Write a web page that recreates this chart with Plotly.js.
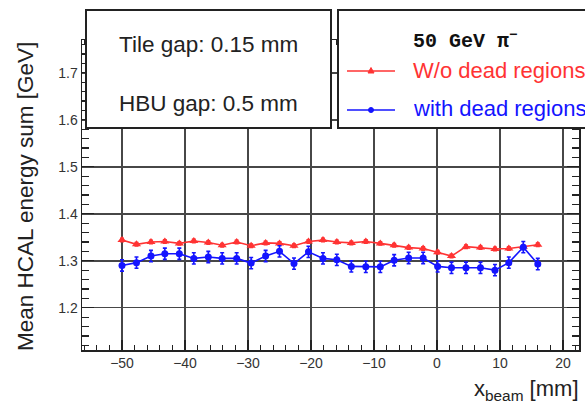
<!DOCTYPE html>
<html>
<head>
<meta charset="utf-8">
<script src="https://cdn.plot.ly/plotly-3.0.1.min.js"></script>
<style>html,body{margin:0;padding:0;background:#fff;}#chart{width:585px;height:404px;}</style>
</head>
<body>
<div id="chart"></div>
<script>
// ---- data ----
const xBeam = [-50, -47.7, -45.4, -43.2, -40.9, -38.6, -36.3, -34.1, -31.8, -29.5,
               -27.2, -25.0, -22.7, -20.4, -18.1, -15.9, -13.6, -11.3, -9.0, -6.8,
               -4.5, -2.2, 0.1, 2.3, 4.6, 6.9, 9.2, 11.4, 13.7, 16.0];
const noDead = [1.344, 1.335, 1.340, 1.341, 1.337, 1.342, 1.339, 1.333, 1.340, 1.332,
                1.338, 1.337, 1.332, 1.341, 1.344, 1.340, 1.338, 1.341, 1.337, 1.333,
                1.328, 1.326, 1.318, 1.310, 1.330, 1.328, 1.325, 1.326, 1.330, 1.334];
const noDeadErr = [0.004, 0.004, 0.004, 0.004, 0.004, 0.004, 0.004, 0.004, 0.004, 0.004,
                   0.004, 0.004, 0.004, 0.004, 0.004, 0.004, 0.004, 0.004, 0.004, 0.004,
                   0.004, 0.004, 0.004, 0.004, 0.004, 0.004, 0.004, 0.004, 0.004, 0.004];
const withDead = [1.290, 1.296, 1.310, 1.315, 1.315, 1.305, 1.308, 1.305, 1.305, 1.295,
                  1.310, 1.320, 1.294, 1.319, 1.305, 1.302, 1.288, 1.287, 1.287, 1.301,
                  1.306, 1.306, 1.288, 1.285, 1.285, 1.285, 1.280, 1.296, 1.329, 1.293];
const withDeadErr = [0.012, 0.012, 0.012, 0.012, 0.012, 0.012, 0.012, 0.012, 0.012, 0.012,
                     0.012, 0.012, 0.012, 0.012, 0.012, 0.012, 0.012, 0.012, 0.012, 0.012,
                     0.012, 0.012, 0.012, 0.012, 0.012, 0.012, 0.012, 0.012, 0.012, 0.012];
const xTicks = [-50, -40, -30, -20, -10, 0, 10, 20];
const yTicks = [1.2, 1.3, 1.4, 1.5, 1.6, 1.7];
const seriesNames = ['W/o dead regions', 'with dead regions'];
const infoLines = ['Tile gap: 0.15 mm', 'HBU gap: 0.5 mm'];
const legendTitle = '50 GeV \u03c0<sup>\u2212</sup>';

// ---- layout helpers (pixel -> paper) ----
const L = 82, R = 6, T = 40, B = 54, W = 585, H = 404;
const PW = W - L - R, PH = H - T - B;
const px = v => (v - L) / PW;
const py = v => (H - B - v) / PH;

const RED = '#ff3333', BLUE = '#1414ff';

const traces = [
  {
    x: xBeam, y: noDead, name: seriesNames[0], type: 'scatter', mode: 'lines+markers',
    line: {color: RED, width: 1.6},
    marker: {symbol: 'triangle-up', size: 8, color: RED},
    error_y: {type: 'data', array: noDeadErr, visible: true, color: RED, thickness: 1.2, width: 2}
  },
  {
    x: xBeam, y: withDead, name: seriesNames[1], type: 'scatter', mode: 'lines+markers',
    line: {color: BLUE, width: 1.6},
    marker: {symbol: 'circle', size: 7, color: BLUE},
    error_y: {type: 'data', array: withDeadErr, visible: true, color: BLUE, thickness: 1.6, width: 2}
  }
];

const axisCommon = {
  showline: true, linecolor: '#222', linewidth: 1.5, mirror: 'ticks',
  ticks: 'inside', tickcolor: '#222', tickwidth: 1.2,
  showgrid: true, gridcolor: '#474747', gridwidth: 1.5,
  zeroline: false,
  tickfont: {family: 'Liberation Sans, Arial, sans-serif', size: 14, color: '#333'}
};

const shapes = [
  // info box
  {type: 'rect', xref: 'paper', yref: 'paper', layer: 'above',
   x0: px(86), x1: px(331), y0: py(128), y1: py(10),
   fillcolor: '#fff', line: {color: '#222', width: 2}},
  // legend box
  {type: 'rect', xref: 'paper', yref: 'paper', layer: 'above',
   x0: px(338), x1: px(600), y0: py(128), y1: py(10),
   fillcolor: '#fff', line: {color: '#222', width: 2}},
  // legend samples
  {type: 'line', xref: 'paper', yref: 'paper', layer: 'above',
   x0: px(347), x1: px(395), y0: py(71), y1: py(71), line: {color: RED, width: 1.5}},
  {type: 'path', xref: 'paper', yref: 'paper', layer: 'above',
   path: `M ${px(371)} ${py(67.5)} L ${px(374)} ${py(73)} L ${px(368)} ${py(73)} Z`,
   fillcolor: RED, line: {color: RED, width: 1}},
  {type: 'line', xref: 'paper', yref: 'paper', layer: 'above',
   x0: px(347), x1: px(395), y0: py(110), y1: py(110), line: {color: BLUE, width: 1.5}},
  {type: 'circle', xref: 'paper', yref: 'paper', layer: 'above',
   x0: px(368.5), x1: px(373.5), y0: py(112.5), y1: py(107.5),
   fillcolor: BLUE, line: {color: BLUE, width: 1}}
];

const sans = 'Liberation Sans, Arial, sans-serif';
const annotations = [
  {text: infoLines[0], xref: 'paper', yref: 'paper', x: px(208.5), y: py(44),
   xanchor: 'center', yanchor: 'middle', showarrow: false,
   font: {family: sans, size: 22.5, color: '#222'}},
  {text: infoLines[1], xref: 'paper', yref: 'paper', x: px(208), y: py(103),
   xanchor: 'center', yanchor: 'middle', showarrow: false,
   font: {family: sans, size: 22.5, color: '#222'}},
  {text: legendTitle, xref: 'paper', yref: 'paper', x: px(411), y: py(40),
   xanchor: 'left', yanchor: 'middle', showarrow: false,
   font: {family: 'Liberation Mono, Courier New, monospace', size: 20, color: '#111', weight: 'bold'}},
  {text: seriesNames[0], xref: 'paper', yref: 'paper', x: px(411), y: py(70),
   xanchor: 'left', yanchor: 'middle', showarrow: false,
   font: {family: sans, size: 22, color: RED}},
  {text: seriesNames[1], xref: 'paper', yref: 'paper', x: px(411), y: py(109),
   xanchor: 'left', yanchor: 'middle', showarrow: false,
   font: {family: sans, size: 22, color: BLUE}},
  // axis titles
  {text: 'Mean HCAL energy sum [GeV]', xref: 'paper', yref: 'paper', x: px(25), y: py(197),
   xanchor: 'center', yanchor: 'middle', textangle: -90, showarrow: false,
   font: {family: sans, size: 22.5, color: '#222'}},
  {text: 'x<sub>beam</sub> [mm]', xref: 'paper', yref: 'paper', x: px(581), y: py(390),
   xanchor: 'right', yanchor: 'middle', showarrow: false,
   font: {family: sans, size: 22, color: '#222'}}
];

const layout = {
  width: W, height: H,
  margin: {l: L, r: R, t: T, b: B, pad: 0},
  paper_bgcolor: '#fff', plot_bgcolor: '#fff',
  showlegend: false,
  font: {family: sans, color: '#222'},
  xaxis: Object.assign({}, axisCommon, {
    range: [-56.35, 22.54], tickmode: 'array', tickvals: xTicks, ticklen: 10,
    minor: {dtick: 2, tick0: 0, ticks: 'inside', ticklen: 5, tickcolor: '#222', showgrid: false}
  }),
  yaxis: Object.assign({}, axisCommon, {
    range: [1.11, 1.77], tickmode: 'array', tickvals: yTicks, tickformat: '.1f', ticklen: 12,
    minor: {dtick: 0.02, tick0: 1.2, ticks: 'inside', ticklen: 7, tickcolor: '#222', showgrid: false}
  }),
  shapes: shapes,
  annotations: annotations
};

Plotly.newPlot('chart', traces, layout, {staticPlot: true, displayModeBar: false});
</script>
</body>
</html>
